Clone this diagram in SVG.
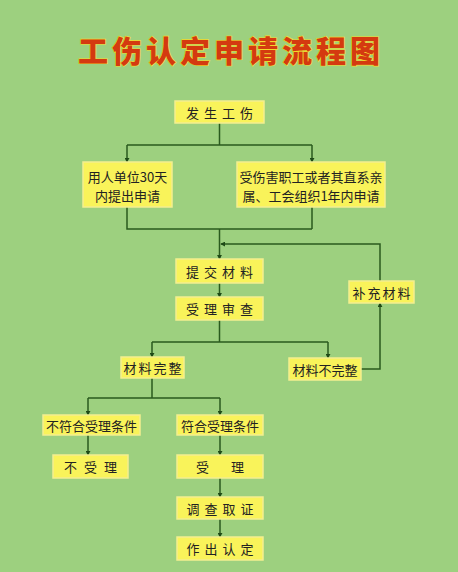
<svg xmlns="http://www.w3.org/2000/svg" width="458" height="572" viewBox="0 0 458 572">
<defs>
<marker id="ah" viewBox="0 0 6 6" refX="5" refY="3" markerWidth="5" markerHeight="5" markerUnits="userSpaceOnUse" orient="auto">
<path d="M0,0 L6,3 L0,6 z" fill="#1f4a17"/>
</marker>
</defs>
<style>
.bg{fill:#9dd07f}
.box{fill:#f9f35a;stroke:#f3ee90;stroke-width:1.5}
.t{font-family:"Noto Sans CJK SC","Liberation Serif",serif;font-size:13px;fill:#222;text-anchor:middle;dominant-baseline:central}
.title{font-family:"Noto Sans CJK SC",sans-serif;font-size:30px;font-weight:900;fill:#d43a10;stroke:#f2d92a;stroke-width:1.2;paint-order:stroke;text-anchor:middle;letter-spacing:4px}
.ln{fill:none;stroke:#2a5a1e;stroke-width:1.5}
.ar{marker-end:url(#ah)}
</style>
<rect class="bg" x="0" y="0" width="458" height="572"/>
<text class="title" x="231" y="49" dominant-baseline="central">工伤认定申请流程图</text>

<g id="connectors">
<path class="ln" d="M219.5,123 V145 M127,145 H312"/>
<path class="ln ar" d="M127,145 V162"/>
<path class="ln ar" d="M312,145 V162"/>
<path class="ln" d="M127,207 V229 H312 M312,207 V229"/>
<path class="ln ar" d="M219.5,229 V259"/>
<path class="ln ar" d="M380,281 V244 H221"/>
<path class="ln ar" d="M219.5,283 V297"/>
<path class="ln" d="M219.5,320 V342 M152,342 H328"/>
<path class="ln ar" d="M152,342 V357"/>
<path class="ln ar" d="M328,342 V358"/>
<path class="ln ar" d="M361,369 H380 V303"/>
<path class="ln" d="M152,378 V398 M88,398 H220"/>
<path class="ln ar" d="M88,398 V415"/>
<path class="ln ar" d="M220,398 V415"/>
<path class="ln ar" d="M88,435 V455"/>
<path class="ln ar" d="M220,435 V455"/>
<path class="ln ar" d="M220,478 V497"/>
<path class="ln ar" d="M220,519 V537"/>
</g>

<g id="n_fasheng"><rect class="box" x="175" y="101" width="89" height="22"/><text class="t" x="222" y="112" letter-spacing="5">发生工伤</text></g>
<g id="n_danwei"><rect class="box" x="83" y="162" width="89" height="45"/><text class="t" x="127.5" y="176">用人单位30天</text><text class="t" x="127.5" y="195">内提出申请</text></g>
<g id="n_zhigong"><rect class="box" x="237" y="162" width="148" height="45"/><text class="t" x="311" y="176">受伤害职工或者其直系亲</text><text class="t" x="311" y="195">属、工会组织1年内申请</text></g>
<g id="n_tijiao"><rect class="box" x="176" y="259" width="87" height="24"/><text class="t" x="222" y="271" letter-spacing="5">提交材料</text></g>
<g id="n_shencha"><rect class="box" x="176" y="297" width="87" height="23"/><text class="t" x="222" y="308.5" letter-spacing="5">受理审查</text></g>
<g id="n_buchong"><rect class="box" x="349" y="281" width="65" height="22"/><text class="t" x="382.5" y="292" letter-spacing="2">补充材料</text></g>
<g id="n_wanzheng"><rect class="box" x="121" y="357" width="63" height="21"/><text class="t" x="153.5" y="367.5" letter-spacing="2">材料完整</text></g>
<g id="n_buwanzheng"><rect class="box" x="289" y="358" width="72" height="22"/><text class="t" x="325" y="369">材料不完整</text></g>
<g id="n_bufuhe"><rect class="box" x="43" y="415" width="97" height="20"/><text class="t" x="91.5" y="425">不符合受理条件</text></g>
<g id="n_fuhe"><rect class="box" x="177" y="415" width="86" height="20"/><text class="t" x="220" y="425">符合受理条件</text></g>
<g id="n_bushouli"><rect class="box" x="53" y="455" width="75" height="23"/><text class="t" x="94" y="466.5" letter-spacing="7">不受理</text></g>
<g id="n_shouli"><rect class="box" x="177" y="455" width="86" height="23"/><text class="t" x="231" y="466.5" letter-spacing="22">受理</text></g>
<g id="n_diaocha"><rect class="box" x="177" y="497" width="86" height="22"/><text class="t" x="222.5" y="508" letter-spacing="5">调查取证</text></g>
<g id="n_zuochu"><rect class="box" x="177" y="537" width="86" height="23"/><text class="t" x="222.5" y="548.5" letter-spacing="5">作出认定</text></g>
</svg>
